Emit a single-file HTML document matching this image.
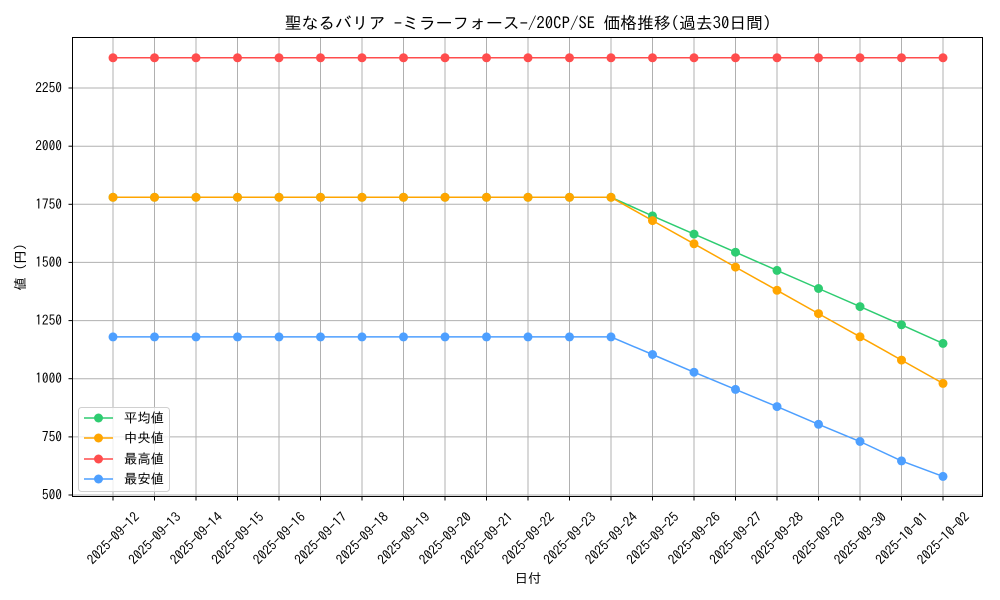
<!DOCTYPE html>
<html><head><meta charset="utf-8"><style>
html,body{margin:0;padding:0;background:#fff}
svg{display:block;font-family:"IPAGothic","Noto Sans CJK JP",sans-serif}
</style></head><body>
<svg width="1000" height="600" viewBox="0 0 1000 600" xmlns="http://www.w3.org/2000/svg">
<rect width="1000" height="600" fill="#fff"/>
<g stroke="#b0b0b0" stroke-width="1">
<line x1="113" y1="37.5" x2="113" y2="496.5"/><line x1="154.5" y1="37.5" x2="154.5" y2="496.5"/><line x1="196" y1="37.5" x2="196" y2="496.5"/><line x1="237.5" y1="37.5" x2="237.5" y2="496.5"/><line x1="279" y1="37.5" x2="279" y2="496.5"/><line x1="320.5" y1="37.5" x2="320.5" y2="496.5"/><line x1="362" y1="37.5" x2="362" y2="496.5"/><line x1="403.5" y1="37.5" x2="403.5" y2="496.5"/><line x1="445" y1="37.5" x2="445" y2="496.5"/><line x1="486.5" y1="37.5" x2="486.5" y2="496.5"/><line x1="528" y1="37.5" x2="528" y2="496.5"/><line x1="569.5" y1="37.5" x2="569.5" y2="496.5"/><line x1="611" y1="37.5" x2="611" y2="496.5"/><line x1="652.5" y1="37.5" x2="652.5" y2="496.5"/><line x1="694" y1="37.5" x2="694" y2="496.5"/><line x1="735.5" y1="37.5" x2="735.5" y2="496.5"/><line x1="777" y1="37.5" x2="777" y2="496.5"/><line x1="818.5" y1="37.5" x2="818.5" y2="496.5"/><line x1="860" y1="37.5" x2="860" y2="496.5"/><line x1="901.5" y1="37.5" x2="901.5" y2="496.5"/><line x1="943" y1="37.5" x2="943" y2="496.5"/>
<line x1="72.5" y1="88" x2="982.5" y2="88"/><line x1="72.5" y1="146.2" x2="982.5" y2="146.2"/><line x1="72.5" y1="204.3" x2="982.5" y2="204.3"/><line x1="72.5" y1="262.4" x2="982.5" y2="262.4"/><line x1="72.5" y1="320.6" x2="982.5" y2="320.6"/><line x1="72.5" y1="378.7" x2="982.5" y2="378.7"/><line x1="72.5" y1="436.9" x2="982.5" y2="436.9"/><line x1="72.5" y1="495" x2="982.5" y2="495"/>
</g>
<g fill="none" stroke-width="1.5">
<polyline stroke="#ff4d4d" points="113,57.8 943,57.8"/>
<polyline stroke="#2ecc71" points="113,197.3 611,197.3 652.5,215.9 694,234.1 735.5,252.2 777,270.4 818.5,288.5 860,306.6 901.5,324.8 943,343.4"/>
<polyline stroke="#ffa500" points="113,197.3 611,197.3 652.5,220.6 694,243.8 735.5,267.1 777,290.3 818.5,313.6 860,336.8 901.5,360.1 943,383.4"/>
<polyline stroke="#4d9fff" points="113,336.9 611,336.9 652.5,354.5 694,372.2 735.5,389.4 777,406.6 818.5,424.3 860,441.5 901.5,460.9 943,476.4"/>
</g>
<g fill="#ff4d4d">
<circle cx="113" cy="57.8" r="4.5"/><circle cx="154.5" cy="57.8" r="4.5"/><circle cx="196" cy="57.8" r="4.5"/><circle cx="237.5" cy="57.8" r="4.5"/><circle cx="279" cy="57.8" r="4.5"/><circle cx="320.5" cy="57.8" r="4.5"/><circle cx="362" cy="57.8" r="4.5"/><circle cx="403.5" cy="57.8" r="4.5"/><circle cx="445" cy="57.8" r="4.5"/><circle cx="486.5" cy="57.8" r="4.5"/><circle cx="528" cy="57.8" r="4.5"/><circle cx="569.5" cy="57.8" r="4.5"/><circle cx="611" cy="57.8" r="4.5"/><circle cx="652.5" cy="57.8" r="4.5"/><circle cx="694" cy="57.8" r="4.5"/><circle cx="735.5" cy="57.8" r="4.5"/><circle cx="777" cy="57.8" r="4.5"/><circle cx="818.5" cy="57.8" r="4.5"/><circle cx="860" cy="57.8" r="4.5"/><circle cx="901.5" cy="57.8" r="4.5"/><circle cx="943" cy="57.8" r="4.5"/>
</g>
<g fill="#2ecc71">
<circle cx="113" cy="197.3" r="4.5"/><circle cx="154.5" cy="197.3" r="4.5"/><circle cx="196" cy="197.3" r="4.5"/><circle cx="237.5" cy="197.3" r="4.5"/><circle cx="279" cy="197.3" r="4.5"/><circle cx="320.5" cy="197.3" r="4.5"/><circle cx="362" cy="197.3" r="4.5"/><circle cx="403.5" cy="197.3" r="4.5"/><circle cx="445" cy="197.3" r="4.5"/><circle cx="486.5" cy="197.3" r="4.5"/><circle cx="528" cy="197.3" r="4.5"/><circle cx="569.5" cy="197.3" r="4.5"/><circle cx="611" cy="197.3" r="4.5"/><circle cx="652.5" cy="215.9" r="4.5"/><circle cx="694" cy="234.1" r="4.5"/><circle cx="735.5" cy="252.2" r="4.5"/><circle cx="777" cy="270.4" r="4.5"/><circle cx="818.5" cy="288.5" r="4.5"/><circle cx="860" cy="306.6" r="4.5"/><circle cx="901.5" cy="324.8" r="4.5"/><circle cx="943" cy="343.4" r="4.5"/>
</g>
<g fill="#ffa500">
<circle cx="113" cy="197.3" r="4.5"/><circle cx="154.5" cy="197.3" r="4.5"/><circle cx="196" cy="197.3" r="4.5"/><circle cx="237.5" cy="197.3" r="4.5"/><circle cx="279" cy="197.3" r="4.5"/><circle cx="320.5" cy="197.3" r="4.5"/><circle cx="362" cy="197.3" r="4.5"/><circle cx="403.5" cy="197.3" r="4.5"/><circle cx="445" cy="197.3" r="4.5"/><circle cx="486.5" cy="197.3" r="4.5"/><circle cx="528" cy="197.3" r="4.5"/><circle cx="569.5" cy="197.3" r="4.5"/><circle cx="611" cy="197.3" r="4.5"/><circle cx="652.5" cy="220.6" r="4.5"/><circle cx="694" cy="243.8" r="4.5"/><circle cx="735.5" cy="267.1" r="4.5"/><circle cx="777" cy="290.3" r="4.5"/><circle cx="818.5" cy="313.6" r="4.5"/><circle cx="860" cy="336.8" r="4.5"/><circle cx="901.5" cy="360.1" r="4.5"/><circle cx="943" cy="383.4" r="4.5"/>
</g>
<g fill="#4d9fff">
<circle cx="113" cy="336.9" r="4.5"/><circle cx="154.5" cy="336.9" r="4.5"/><circle cx="196" cy="336.9" r="4.5"/><circle cx="237.5" cy="336.9" r="4.5"/><circle cx="279" cy="336.9" r="4.5"/><circle cx="320.5" cy="336.9" r="4.5"/><circle cx="362" cy="336.9" r="4.5"/><circle cx="403.5" cy="336.9" r="4.5"/><circle cx="445" cy="336.9" r="4.5"/><circle cx="486.5" cy="336.9" r="4.5"/><circle cx="528" cy="336.9" r="4.5"/><circle cx="569.5" cy="336.9" r="4.5"/><circle cx="611" cy="336.9" r="4.5"/><circle cx="652.5" cy="354.5" r="4.5"/><circle cx="694" cy="372.2" r="4.5"/><circle cx="735.5" cy="389.4" r="4.5"/><circle cx="777" cy="406.6" r="4.5"/><circle cx="818.5" cy="424.3" r="4.5"/><circle cx="860" cy="441.5" r="4.5"/><circle cx="901.5" cy="460.9" r="4.5"/><circle cx="943" cy="476.4" r="4.5"/>
</g>
<rect x="72.5" y="37.5" width="910" height="459" fill="none" stroke="#000" stroke-width="1"/>
<g stroke="#000" stroke-width="1">
<line x1="68.5" y1="88" x2="72.5" y2="88"/><line x1="68.5" y1="146.2" x2="72.5" y2="146.2"/><line x1="68.5" y1="204.3" x2="72.5" y2="204.3"/><line x1="68.5" y1="262.4" x2="72.5" y2="262.4"/><line x1="68.5" y1="320.6" x2="72.5" y2="320.6"/><line x1="68.5" y1="378.7" x2="72.5" y2="378.7"/><line x1="68.5" y1="436.9" x2="72.5" y2="436.9"/><line x1="68.5" y1="495" x2="72.5" y2="495"/>
<line x1="113" y1="496.5" x2="113" y2="500.5"/><line x1="154.5" y1="496.5" x2="154.5" y2="500.5"/><line x1="196" y1="496.5" x2="196" y2="500.5"/><line x1="237.5" y1="496.5" x2="237.5" y2="500.5"/><line x1="279" y1="496.5" x2="279" y2="500.5"/><line x1="320.5" y1="496.5" x2="320.5" y2="500.5"/><line x1="362" y1="496.5" x2="362" y2="500.5"/><line x1="403.5" y1="496.5" x2="403.5" y2="500.5"/><line x1="445" y1="496.5" x2="445" y2="500.5"/><line x1="486.5" y1="496.5" x2="486.5" y2="500.5"/><line x1="528" y1="496.5" x2="528" y2="500.5"/><line x1="569.5" y1="496.5" x2="569.5" y2="500.5"/><line x1="611" y1="496.5" x2="611" y2="500.5"/><line x1="652.5" y1="496.5" x2="652.5" y2="500.5"/><line x1="694" y1="496.5" x2="694" y2="500.5"/><line x1="735.5" y1="496.5" x2="735.5" y2="500.5"/><line x1="777" y1="496.5" x2="777" y2="500.5"/><line x1="818.5" y1="496.5" x2="818.5" y2="500.5"/><line x1="860" y1="496.5" x2="860" y2="500.5"/><line x1="901.5" y1="496.5" x2="901.5" y2="500.5"/><line x1="943" y1="496.5" x2="943" y2="500.5"/>
</g>
<g font-size="13.4" text-anchor="end" fill="#000">
<text x="62" y="92.5">2250</text><text x="62" y="150.7">2000</text><text x="62" y="208.8">1750</text><text x="62" y="266.9">1500</text><text x="62" y="325.1">1250</text><text x="62" y="383.2">1000</text><text x="62" y="441.4">750</text><text x="62" y="499.5">500</text>
</g>
<g font-size="13.4" text-anchor="middle" dominant-baseline="central" fill="#000">
<text transform="translate(113,538) rotate(-45)">2025-09-12</text><text transform="translate(154.5,538) rotate(-45)">2025-09-13</text><text transform="translate(196,538) rotate(-45)">2025-09-14</text><text transform="translate(237.5,538) rotate(-45)">2025-09-15</text><text transform="translate(279,538) rotate(-45)">2025-09-16</text><text transform="translate(320.5,538) rotate(-45)">2025-09-17</text><text transform="translate(362,538) rotate(-45)">2025-09-18</text><text transform="translate(403.5,538) rotate(-45)">2025-09-19</text><text transform="translate(445,538) rotate(-45)">2025-09-20</text><text transform="translate(486.5,538) rotate(-45)">2025-09-21</text><text transform="translate(528,538) rotate(-45)">2025-09-22</text><text transform="translate(569.5,538) rotate(-45)">2025-09-23</text><text transform="translate(611,538) rotate(-45)">2025-09-24</text><text transform="translate(652.5,538) rotate(-45)">2025-09-25</text><text transform="translate(694,538) rotate(-45)">2025-09-26</text><text transform="translate(735.5,538) rotate(-45)">2025-09-27</text><text transform="translate(777,538) rotate(-45)">2025-09-28</text><text transform="translate(818.5,538) rotate(-45)">2025-09-29</text><text transform="translate(860,538) rotate(-45)">2025-09-30</text><text transform="translate(901.5,538) rotate(-45)">2025-10-01</text><text transform="translate(943,538) rotate(-45)">2025-10-02</text>
</g>
<text x="528" y="583" font-size="13.4" text-anchor="middle">日付</text>
<text transform="translate(25,267) rotate(-90)" font-size="13.4" text-anchor="middle">値 (円)</text>
<text x="528" y="29" font-size="16.8" text-anchor="middle">聖なるバリア -ミラーフォース-/20CP/SE 価格推移(過去30日間)</text>
<rect x="78.5" y="407.5" width="91" height="84" rx="3" fill="#fff" fill-opacity="0.8" stroke="#d0d0d0"/>
<g stroke-width="1.5">
<line x1="84" y1="418" x2="113" y2="418" stroke="#2ecc71"/><circle cx="98.5" cy="418" r="4.5" fill="#2ecc71"/>
<line x1="84" y1="438" x2="113" y2="438" stroke="#ffa500"/><circle cx="98.5" cy="438" r="4.5" fill="#ffa500"/>
<line x1="84" y1="459" x2="113" y2="459" stroke="#ff4d4d"/><circle cx="98.5" cy="459" r="4.5" fill="#ff4d4d"/>
<line x1="84" y1="479" x2="113" y2="479" stroke="#4d9fff"/><circle cx="98.5" cy="479" r="4.5" fill="#4d9fff"/>
</g>
<g font-size="13.4" fill="#000">
<text x="124" y="422.5">平均値</text><text x="124" y="442.5">中央値</text><text x="124" y="463.5">最高値</text><text x="124" y="483.5">最安値</text>
</g>
</svg>
</body></html>
